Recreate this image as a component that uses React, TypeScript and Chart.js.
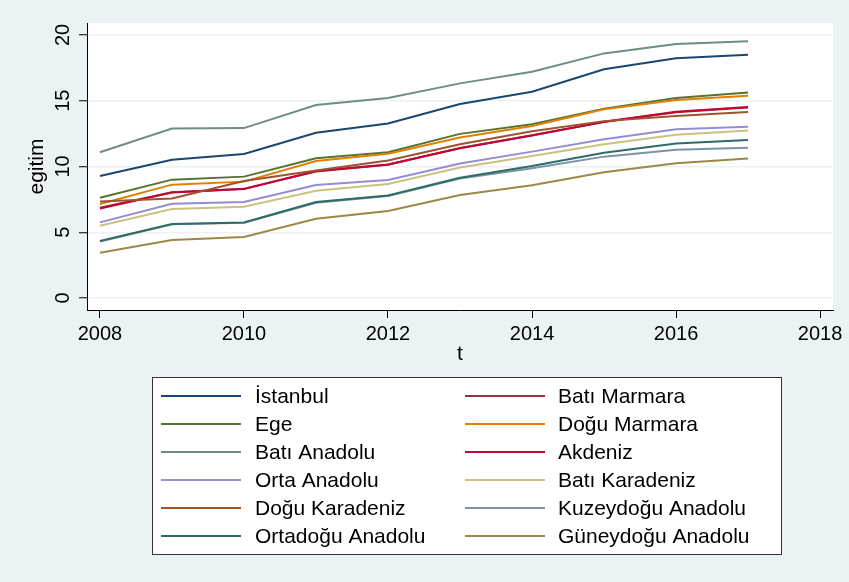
import React, { useEffect, useRef } from "react";
import { Chart, registerables } from "chart.js";

Chart.register(...registerables);

const years = [2008, 2009, 2010, 2011, 2012, 2013, 2014, 2015, 2016, 2017];
const xTickValues = [2008, 2010, 2012, 2014, 2016, 2018];
const yTickValues = [0, 5, 10, 15, 20];

const regionNames = [
  "İstanbul",
  "Batı Marmara",
  "Ege",
  "Doğu Marmara",
  "Batı Anadolu",
  "Akdeniz",
  "Orta Anadolu",
  "Batı Karadeniz",
  "Doğu Karadeniz",
  "Kuzeydoğu Anadolu",
  "Ortadoğu Anadolu",
  "Güneydoğu Anadolu",
];

const regionColors = [
  "#1a476f",
  "#90353b",
  "#55752f",
  "#e37e00",
  "#6e8e84",
  "#c10534",
  "#938dd2",
  "#cac27e",
  "#a0522d",
  "#7b92a8",
  "#2d6d66",
  "#9c8847",
];

const istanbul = [9.28, 10.52, 10.95, 12.57, 13.27, 14.75, 15.69, 17.39, 18.23, 18.5];
const batiMarmara = [6.86, 8.05, 8.3, 9.62, 10.13, 11.41, 12.37, 13.38, 14.13, 14.49];
const ege = [7.63, 9.0, 9.23, 10.62, 11.08, 12.48, 13.22, 14.4, 15.21, 15.62];
const doguMarmara = [7.15, 8.62, 8.85, 10.42, 10.97, 12.2, 13.08, 14.35, 15.06, 15.37];
const batiAnadolu = [11.08, 12.88, 12.92, 14.68, 15.21, 16.32, 17.21, 18.6, 19.32, 19.52];
const akdeniz = [6.8, 8.03, 8.29, 9.66, 10.16, 11.38, 12.35, 13.4, 14.16, 14.52];
const ortaAnadolu = [5.75, 7.17, 7.3, 8.6, 8.98, 10.23, 11.13, 12.08, 12.83, 13.03];
const batiKaradeniz = [5.5, 6.77, 6.94, 8.16, 8.67, 9.92, 10.8, 11.7, 12.42, 12.73];
const doguKaradeniz = [7.33, 7.57, 8.9, 9.7, 10.45, 11.69, 12.68, 13.45, 13.84, 14.14];
const kuzeydoguAnadolu = [4.3, 5.6, 5.72, 7.25, 7.76, 9.08, 9.86, 10.75, 11.28, 11.43];
const ortadoguAnadolu = [4.33, 5.62, 5.74, 7.3, 7.79, 9.15, 10.03, 11.05, 11.74, 12.02];
const guneydoguAnadolu = [3.45, 4.41, 4.64, 6.03, 6.61, 7.83, 8.58, 9.57, 10.24, 10.6];

const seriesValues = [
  istanbul,
  batiMarmara,
  ege,
  doguMarmara,
  batiAnadolu,
  akdeniz,
  ortaAnadolu,
  batiKaradeniz,
  doguKaradeniz,
  kuzeydoguAnadolu,
  ortadoguAnadolu,
  guneydoguAnadolu,
];

const FONT = '"Liberation Sans", Arial, Helvetica, sans-serif';
const BG = "#eaf2f3";

export default function App() {
  const canvasRef = useRef<HTMLCanvasElement | null>(null);

  useEffect(() => {
    document.body.style.margin = "0";
    const canvas = canvasRef.current;
    if (!canvas) return;

    const decorPlugin = {
      id: "decor",
      beforeDraw(chart: any) {
        const { ctx, chartArea } = chart;
        ctx.save();
        ctx.fillStyle = BG;
        ctx.fillRect(0, 0, chart.width, chart.height);
        ctx.fillStyle = "#ffffff";
        ctx.fillRect(
          chartArea.left,
          chartArea.top,
          chartArea.right - chartArea.left,
          chartArea.bottom - chartArea.top
        );
        ctx.restore();
      },
      afterDraw(chart: any) {
        const { ctx, chartArea } = chart;
        const yScale = chart.scales.y;
        ctx.save();
        ctx.fillStyle = "#000";
        ctx.font = `20px ${FONT}`;
        ctx.textAlign = "center";
        ctx.textBaseline = "middle";
        // y tick labels (rotated)
        yTickValues.forEach((v) => {
          const py = yScale.getPixelForValue(v);
          ctx.save();
          ctx.translate(63, py);
          ctx.rotate(-Math.PI / 2);
          ctx.fillText(String(v), 0, 0);
          ctx.restore();
        });
        // y title
        ctx.font = `21px ${FONT}`;
        ctx.save();
        ctx.translate(37, (chartArea.top + chartArea.bottom) / 2);
        ctx.rotate(-Math.PI / 2);
        ctx.fillText("egitim", 0, 0);
        ctx.restore();
        // x title
        ctx.fillText("t", (chartArea.left + chartArea.right) / 2, 354);

        // legend
        const boxL = 152,
          boxT = 377,
          boxR = 781,
          boxB = 554;
        ctx.fillStyle = "#ffffff";
        ctx.fillRect(boxL, boxT, boxR - boxL, boxB - boxT);
        ctx.strokeStyle = "#333333";
        ctx.lineWidth = 1;
        ctx.strokeRect(boxL + 0.5, boxT + 0.5, boxR - boxL, boxB - boxT);
        ctx.textAlign = "left";
        ctx.textBaseline = "middle";
        ctx.font = `21px ${FONT}`;
        regionNames.forEach((name, i) => {
          const col = i % 2;
          const row = Math.floor(i / 2);
          const cy = 396 + row * 28;
          const lx = col === 0 ? 161 : 465;
          const tx = col === 0 ? 255 : 558;
          ctx.strokeStyle = regionColors[i];
          ctx.lineWidth = 2;
          ctx.beginPath();
          ctx.moveTo(lx, cy);
          ctx.lineTo(lx + 80, cy);
          ctx.stroke();
          ctx.fillStyle = "#000";
          ctx.fillText(name, tx, cy + 1);
        });
        ctx.restore();
      },
    };

    const datasets = regionNames.map((name, i) => ({
      label: name,
      data: years.map((yr, j) => ({ x: yr, y: seriesValues[i][j] })),
      borderColor: regionColors[i],
      backgroundColor: regionColors[i],
      borderWidth: 2,
      pointRadius: 0,
      tension: 0,
      fill: false,
      order: regionNames.length - i,
    }));

    const chart = new Chart(canvas, {
      type: "line",
      data: { datasets },
      plugins: [decorPlugin],
      options: {
        animation: false,
        responsive: false,
        devicePixelRatio: 1,
        layout: { padding: { left: 0, top: 23, right: 16, bottom: 0 } },
        plugins: {
          legend: { display: false },
          tooltip: { enabled: false },
        },
        scales: {
          x: {
            type: "linear",
            min: 2007.82,
            max: 2018.18,
            afterBuildTicks: (scale: any) => {
              scale.ticks = xTickValues.map((v) => ({ value: v }));
            },
            afterFit: (scale: any) => {
              scale.height = 272;
            },
            ticks: {
              color: "#000",
              font: { family: FONT, size: 20 },
              padding: 4,
              maxRotation: 0,
              minRotation: 0,
              autoSkip: false,
              callback: (v: any) => String(v),
            },
            grid: {
              drawOnChartArea: false,
              drawTicks: true,
              tickLength: 8,
              tickColor: "#000",
              tickWidth: 1,
            },
            border: { display: true, color: "#000", width: 1 },
          },
          y: {
            type: "linear",
            min: -0.91,
            max: 20.91,
            afterBuildTicks: (scale: any) => {
              scale.ticks = yTickValues.map((v) => ({ value: v }));
            },
            afterFit: (scale: any) => {
              scale.width = 87;
            },
            ticks: {
              display: false,
            },
            grid: {
              color: BG,
              lineWidth: 1.5,
              drawTicks: true,
              tickLength: 8,
              tickColor: "#000",
              tickWidth: 1,
            },
            border: { display: true, color: "#000", width: 1 },
          },
        },
      },
    });

    return () => {
      chart.destroy();
    };
  }, []);

  return (
    <div style={{ width: 849, height: 582, background: BG }}>
      <canvas ref={canvasRef} width={849} height={582} style={{ display: "block", width: 849, height: 582 }} />
    </div>
  );
}
